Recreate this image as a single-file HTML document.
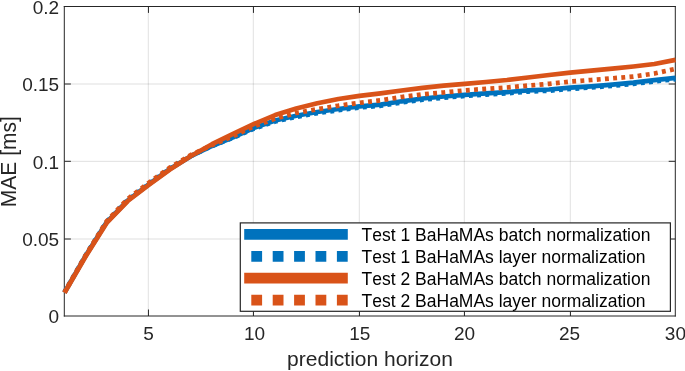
<!DOCTYPE html>
<html><head><meta charset="utf-8"><title>MAE vs prediction horizon</title>
<style>html,body{margin:0;padding:0;background:#fff}svg{display:block}</style></head>
<body>
<svg width="685" height="371" viewBox="0 0 685 371" style="display:block;font-family:'Liberation Sans',Arial,Helvetica,sans-serif;font-kerning:none">
<rect width="685" height="371" fill="#fff"/>
<g stroke="#262626" stroke-opacity="0.14" stroke-width="1" fill="none"><line x1="148.3" y1="7" x2="148.3" y2="316"/><line x1="253.3" y1="7" x2="253.3" y2="316"/><line x1="359.3" y1="7" x2="359.3" y2="316"/><line x1="464.3" y1="7" x2="464.3" y2="316"/><line x1="570.3" y1="7" x2="570.3" y2="316"/><line x1="65" y1="239.00" x2="675" y2="239.00"/><line x1="65" y1="161.35" x2="675" y2="161.35"/><line x1="65" y1="84.00" x2="675" y2="84.00"/></g>
<g stroke="#262626" stroke-width="1" fill="none">
<line x1="63.8" y1="6.5" x2="675.8" y2="6.5"/>
<line x1="63.8" y1="316" x2="675.8" y2="316"/>
<line x1="64.3" y1="6" x2="64.3" y2="316.5"/>
<line x1="675.3" y1="6" x2="675.3" y2="316.5"/>
<line x1="148.45" y1="316" x2="148.45" y2="309.5"/>
<line x1="148.45" y1="6.5" x2="148.45" y2="12.9"/>
<line x1="253.45" y1="316" x2="253.45" y2="309.5"/>
<line x1="253.45" y1="6.5" x2="253.45" y2="12.9"/>
<line x1="359.45" y1="316" x2="359.45" y2="309.5"/>
<line x1="359.45" y1="6.5" x2="359.45" y2="12.9"/>
<line x1="464.45" y1="316" x2="464.45" y2="309.5"/>
<line x1="464.45" y1="6.5" x2="464.45" y2="12.9"/>
<line x1="570.45" y1="316" x2="570.45" y2="309.5"/>
<line x1="570.45" y1="6.5" x2="570.45" y2="12.9"/>
<line x1="64.3" y1="239.0" x2="70.9" y2="239.0"/>
<line x1="675.3" y1="239.0" x2="668.7" y2="239.0"/>
<line x1="64.3" y1="161.3" x2="70.9" y2="161.3"/>
<line x1="675.3" y1="161.3" x2="668.7" y2="161.3"/>
<line x1="64.3" y1="84.0" x2="70.9" y2="84.0"/>
<line x1="675.3" y1="84.0" x2="668.7" y2="84.0"/>
</g>
<g fill="none" stroke-linejoin="round">
<path d="M64.50 292.60 L85.57 255.90 L106.64 222.30 L127.71 200.50 L148.78 184.30 L169.84 169.00 L190.91 156.20 L211.98 146.00 L233.05 137.40 L254.12 127.90 L275.19 120.50 L296.26 115.70 L317.33 112.00 L338.40 109.00 L359.47 106.30 L380.53 104.60 L401.60 101.30 L422.67 98.50 L443.74 96.50 L464.81 94.80 L485.88 93.40 L506.95 92.10 L528.02 90.40 L549.09 89.50 L570.16 87.70 L591.23 86.30 L612.29 84.60 L633.36 82.70 L654.43 80.20 L675.50 77.90" stroke="#0072BD" stroke-width="4.7"/>
<path d="M64.50 292.10 L85.57 255.40 L106.64 221.80 L127.71 200.00 L148.78 183.80 L169.84 168.50 L190.91 155.90 L211.98 146.00 L233.05 137.80 L254.12 128.60 L275.19 121.50 L296.26 116.90 L317.33 113.20 L338.40 110.20 L359.47 107.50 L380.53 105.80 L401.60 102.50 L422.67 99.70 L443.74 97.70 L464.81 96.00 L485.88 94.60 L506.95 93.30 L528.02 91.60 L549.09 90.70 L570.16 88.90 L591.23 87.50 L612.29 85.80 L633.36 83.90 L654.43 81.40 L675.50 79.10" stroke="#0072BD" stroke-width="4.7" stroke-dasharray="3.9 4.31" stroke-dashoffset="0.08"/>
<path d="M64.50 292.80 L85.57 256.50 L106.64 222.90 L127.71 201.00 L148.78 184.80 L169.84 169.50 L190.91 156.00 L211.98 144.20 L233.05 133.90 L254.12 123.90 L275.19 115.10 L296.26 108.50 L317.33 103.20 L338.40 99.00 L359.47 95.90 L380.53 93.30 L401.60 90.50 L422.67 87.80 L443.74 85.70 L464.81 83.80 L485.88 82.00 L506.95 80.00 L528.02 77.50 L549.09 75.00 L570.16 72.60 L591.23 70.70 L612.29 68.60 L633.36 66.50 L654.43 64.00 L675.50 59.90" stroke="#D95319" stroke-width="4.7"/>
<path d="M64.50 292.40 L85.57 255.40 L106.64 221.30 L127.71 199.00 L148.78 182.80 L169.84 167.60 L190.91 155.00 L211.98 145.20 L233.05 136.20 L254.12 126.20 L275.19 118.60 L296.26 113.00 L317.33 109.20 L338.40 105.70 L359.47 102.80 L380.53 100.40 L401.60 97.00 L422.67 94.30 L443.74 92.50 L464.81 90.40 L485.88 88.90 L506.95 87.50 L528.02 85.60 L549.09 83.80 L570.16 81.60 L591.23 80.00 L612.29 78.30 L633.36 76.60 L654.43 73.50 L675.50 68.90" stroke="#D95319" stroke-width="4.7" stroke-dasharray="3.9 4.31" stroke-dashoffset="0.87"/>
</g>
<g fill="#262626" font-size="19.0">
<text x="148.6" y="339.9" text-anchor="middle">5</text>
<text x="254.6" y="339.9" text-anchor="middle">10</text>
<text x="359.8" y="339.9" text-anchor="middle">15</text>
<text x="464.5" y="339.9" text-anchor="middle">20</text>
<text x="569.6" y="339.9" text-anchor="middle">25</text>
<text x="675.4" y="339.9" text-anchor="middle">30</text>
<text x="59.2" y="323.2" text-anchor="end">0</text>
<text x="59.2" y="245.8" text-anchor="end">0.05</text>
<text x="59.2" y="168.6" text-anchor="end">0.1</text>
<text x="59.2" y="91.2" text-anchor="end">0.15</text>
<text x="59.2" y="13.8" text-anchor="end">0.2</text>
</g>
<text x="370" y="366.4" text-anchor="middle" font-size="21.0" fill="#262626">prediction horizon</text>
<text transform="translate(15.6 161.7) rotate(-90) scale(1 1.04)" text-anchor="middle" font-size="21.0" fill="#262626">MAE [ms]</text>
<rect x="240.3" y="222.9" width="430.1" height="88.4" fill="#fff" stroke="#262626" stroke-width="1.2"/>
<line x1="244.2" y1="234.4" x2="347.8" y2="234.4" stroke="#0072BD" stroke-width="10.7"/>
<text x="361.6" y="241.1" font-size="17.5" fill="#000">Test 1 BaHaMAs batch normalization</text>
<line x1="251.3" y1="256.3" x2="347.8" y2="256.3" stroke="#0072BD" stroke-width="10.7" stroke-dasharray="10.8 10.6"/>
<text x="361.6" y="263.0" font-size="17.5" fill="#000">Test 1 BaHaMAs layer normalization</text>
<line x1="244.2" y1="278.2" x2="347.8" y2="278.2" stroke="#D95319" stroke-width="10.7"/>
<text x="361.6" y="284.9" font-size="17.5" fill="#000">Test 2 BaHaMAs batch normalization</text>
<line x1="251.3" y1="300.1" x2="347.8" y2="300.1" stroke="#D95319" stroke-width="10.7" stroke-dasharray="10.8 10.6"/>
<text x="361.6" y="306.8" font-size="17.5" fill="#000">Test 2 BaHaMAs layer normalization</text>
</svg>
</body></html>
